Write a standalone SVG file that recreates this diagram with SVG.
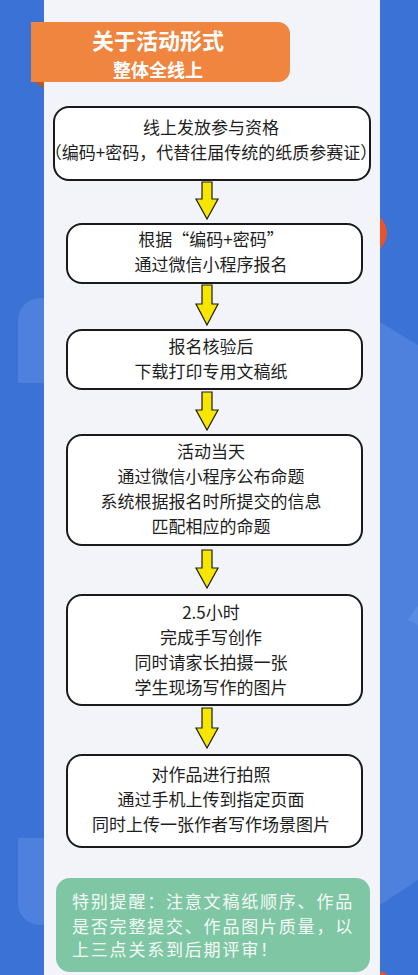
<svg xmlns="http://www.w3.org/2000/svg" width="418" height="975" viewBox="0 0 418 975">
<defs>
<style>
.box{fill:#ffffff;stroke:#1a1a1a;stroke-width:2}
.t{font-family:"Noto Sans CJK SC","Noto Sans",sans-serif;font-size:17px;fill:#1e1e1e;text-anchor:middle}
.h{font-family:"Noto Sans CJK SC","Noto Sans",sans-serif;font-weight:bold;fill:#ffffff;text-anchor:middle}
.g{font-family:"Noto Sans CJK SC","Noto Sans",sans-serif;font-size:17px;fill:#f4faf6;letter-spacing:1.8px}
.arr{fill:#f7e600;stroke:#1a1a1a;stroke-width:1.2;stroke-linejoin:miter}
.lb{fill:#5588e0;opacity:0.7}
</style>
</defs>
<rect x="0" y="0" width="418" height="975" fill="#3a72d6"/>
<path class="lb" d="M44,298 H40 A22,22 0 0 0 18,320 V383 H44 Z"/>
<path class="lb" d="M44,838 V925 H40 A22,22 0 0 1 18,903 V838 Z"/>
<path class="lb" d="M380,322 L418,345 V880 L380,905 Z"/>
<path d="M418,605 L408,620 L418,625 Z" fill="#5a8ce2"/>
<circle cx="366" cy="233" r="21" fill="#e4552f"/>
<circle cx="382" cy="978" r="6" fill="#e4552f"/>
<rect x="44" y="0" width="336" height="975" fill="#f3f4f9"/>
<g id="header">
<path d="M31,80 L44,88 L44,80 Z" fill="#b85a1e"/>
<path d="M31,22 H278 A12,12 0 0 1 290,34 V70 A12,12 0 0 1 278,82 H31 Z" fill="#f0853f"/>
<text class="h" x="158" y="49" font-size="22">关于活动形式</text>
<text class="h" x="158" y="77" font-size="18">整体全线上</text>
</g>
<g id="connectors">
<path class="arr" d="M202,182 H212 V199 H218 L207,219 L196,199 H202 Z"/>
<path class="arr" d="M202,285 H212 V304 H218 L207,325 L196,304 H202 Z"/>
<path class="arr" d="M202,392 H212 V410 H218 L207,430 L196,410 H202 Z"/>
<path class="arr" d="M202,550 H212 V568 H218 L207,588 L196,568 H202 Z"/>
<path class="arr" d="M202,708 H212 V728 H218 L207,748 L196,728 H202 Z"/>
</g>
<g id="n1">
<rect class="box" x="54" y="107" width="316" height="73" rx="15"/>
<text class="t" x="211" y="134">线上发放参与资格</text>
<text class="t" x="211" y="159">（编码+密码，代替往届传统的纸质参赛证）</text>
</g>
<g id="n2">
<rect class="box" x="67" y="224" width="295" height="59" rx="15"/>
<text class="t" x="211" y="246">根据“编码+密码”</text>
<text class="t" x="211" y="271">通过微信小程序报名</text>
</g>
<g id="n3">
<rect class="box" x="67" y="330" width="295" height="59" rx="15"/>
<text class="t" x="211" y="353">报名核验后</text>
<text class="t" x="211" y="378">下载打印专用文稿纸</text>
</g>
<g id="n4">
<rect class="box" x="67" y="435" width="295" height="110" rx="15"/>
<text class="t" x="211" y="458">活动当天</text>
<text class="t" x="211" y="483">通过微信小程序公布命题</text>
<text class="t" x="211" y="508">系统根据报名时所提交的信息</text>
<text class="t" x="211" y="533">匹配相应的命题</text>
</g>
<g id="n5">
<rect class="box" x="67" y="595" width="295" height="110" rx="15"/>
<text class="t" x="211" y="619">2.5小时</text>
<text class="t" x="211" y="644">完成手写创作</text>
<text class="t" x="211" y="669">同时请家长拍摄一张</text>
<text class="t" x="211" y="694">学生现场写作的图片</text>
</g>
<g id="n6">
<rect class="box" x="67" y="755" width="295" height="92" rx="15"/>
<text class="t" x="211" y="781">对作品进行拍照</text>
<text class="t" x="211" y="806">通过手机上传到指定页面</text>
<text class="t" x="211" y="831">同时上传一张作者写作场景图片</text>
</g>
<g id="note">
<rect x="56" y="878" width="314" height="94" rx="14" fill="#7fc6a4"/>
<text class="g" x="72" y="908">特别提醒：注意文稿纸顺序、作品</text>
<text class="g" x="72" y="933">是否完整提交、作品图片质量，以</text>
<text class="g" x="72" y="956">上三点关系到后期评审！</text>
</g>
</svg>
